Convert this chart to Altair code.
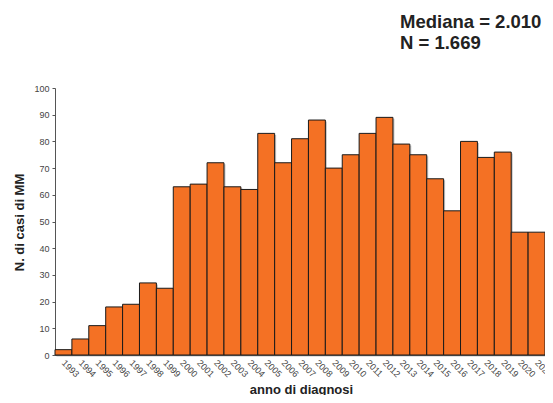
import altair as alt
import pandas as pd

years = [str(y) for y in range(1993, 2022)]
cases = [2, 6, 11, 18, 19, 27, 25, 63, 64, 72, 63, 62, 83, 72, 81, 88, 70,
         75, 83, 89, 79, 75, 66, 54, 80, 74, 76, 46, 46]
stats_text = ["Mediana = 2.010", "N = 1.669"]

df = pd.DataFrame({"anno": years, "casi": cases})

FONT = "Liberation Sans"

x_enc = alt.X("anno:O", sort=years,
              scale=alt.Scale(paddingInner=0, paddingOuter=0),
              axis=alt.Axis(title="anno di diagnosi", labelAngle=45, labelAlign="left",
                            labelBaseline="middle", labelFontSize=9, labelColor="#444444",
                            labelFont=FONT, ticks=False, labelPadding=6,
                            domainColor="#555555", titleFont=FONT, titleFontSize=13,
                            titleFontWeight="bold", titleColor="#222222",
                            titleY=38, titleX=246, titleBaseline="alphabetic",
                            titleAlign="center"))
y_enc = alt.Y("casi:Q", scale=alt.Scale(domain=[0, 100], nice=False),
              axis=alt.Axis(title="N. di casi di MM", values=list(range(0, 101, 10)),
                            grid=False, tickSize=3, tickColor="#555555",
                            domainColor="#555555", labelFontSize=9,
                            labelColor="#444444", labelFont=FONT, labelPadding=3,
                            titleFont=FONT, titleFontSize=13, titleFontWeight="bold",
                            titleColor="#222222", titleX=-36, titleY=134,
                            titleAngle=-90, titleAlign="center", titleBaseline="middle"))

shadow = alt.Chart(df).mark_bar(
    color="#7a7a7a", opacity=0.45, xOffset=1.5, yOffset=1.5
).encode(x=x_enc, y=y_enc)

bars = alt.Chart(df).mark_bar(
    color="#F47124", stroke="#1a1a1a", strokeWidth=1
).encode(x=x_enc, y=y_enc)

txt_font = dict(font=FONT, fontSize=18.5, fontWeight="bold", color="#222222",
                align="left", baseline="alphabetic")
line1 = alt.Chart(pd.DataFrame({"t": [stats_text[0]]})).mark_text(**txt_font).encode(
    text="t:N", x=alt.value(345), y=alt.value(-60))
line2 = alt.Chart(pd.DataFrame({"t": [stats_text[1]]})).mark_text(**txt_font).encode(
    text="t:N", x=alt.value(345), y=alt.value(-39))

chart = alt.layer(shadow, bars, line1, line2).properties(
    width=490,
    height=267,
    autosize=alt.AutoSizeParams(type="none"),
    padding={"left": 47, "top": 80, "right": 0, "bottom": 40},
).configure_view(stroke=None)

chart.save("out.html", embed_options={"renderer": "svg", "actions": False})
